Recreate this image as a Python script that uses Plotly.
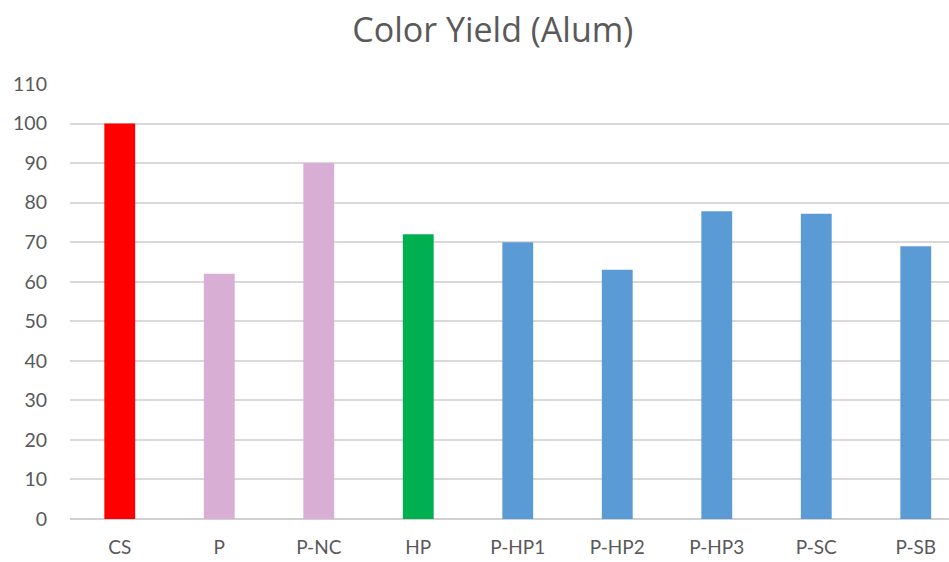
import plotly.graph_objects as go

# Color yield values per sample (alum mordant)
samples = ["CS", "P", "P-NC", "HP", "P-HP1", "P-HP2", "P-HP3", "P-SC", "P-SB"]
color_yield = [100, 62, 90, 72, 70, 63, 77.8, 77.2, 69]
bar_colors = ["#FF0000", "#D8AED5", "#D8AED5", "#00B050",
              "#5B9BD5", "#5B9BD5", "#5B9BD5", "#5B9BD5", "#5B9BD5"]
y_ticks = list(range(0, 111, 10))

fig = go.Figure(
    go.Bar(
        x=list(range(len(samples))),
        y=color_yield,
        marker=dict(color=bar_colors, line=dict(width=0)),
        width=0.31,
        hoverinfo="x+y",
    )
)

fig.update_layout(
    width=949,
    height=562,
    paper_bgcolor="white",
    plot_bgcolor="white",
    margin=dict(l=70, r=0, t=84, b=43),
    showlegend=False,
    font=dict(family="Lato, 'Open Sans', sans-serif", color="#595959"),
    title=dict(
        text="Color Yield (Alum)",
        x=0.481,
        xref="paper",
        xanchor="center",
        y=0.947,
        yref="container",
        yanchor="middle",
        font=dict(family="'Open Sans', sans-serif", size=34, color="#595959"),
    ),
)

fig.update_xaxes(
    range=[-0.5, 8.334],
    tickmode="array",
    tickvals=list(range(len(samples))),
    ticktext=samples,
    showgrid=False,
    zeroline=False,
    showline=False,
    ticks="",
    tickfont=dict(size=19, color="#595959"),
    ticklabelstandoff=15,
)

fig.update_yaxes(
    range=[0, 110],
    tickmode="array",
    tickvals=y_ticks,
    showgrid=True,
    gridcolor="#D9D9D9",
    gridwidth=1.5,
    zeroline=True,
    zerolinecolor="#D0D0D0",
    zerolinewidth=2,
    showline=False,
    ticks="",
    tickfont=dict(size=19.5, color="#595959"),
    ticklabelstandoff=22,
)

fig.write_html("out.html")
